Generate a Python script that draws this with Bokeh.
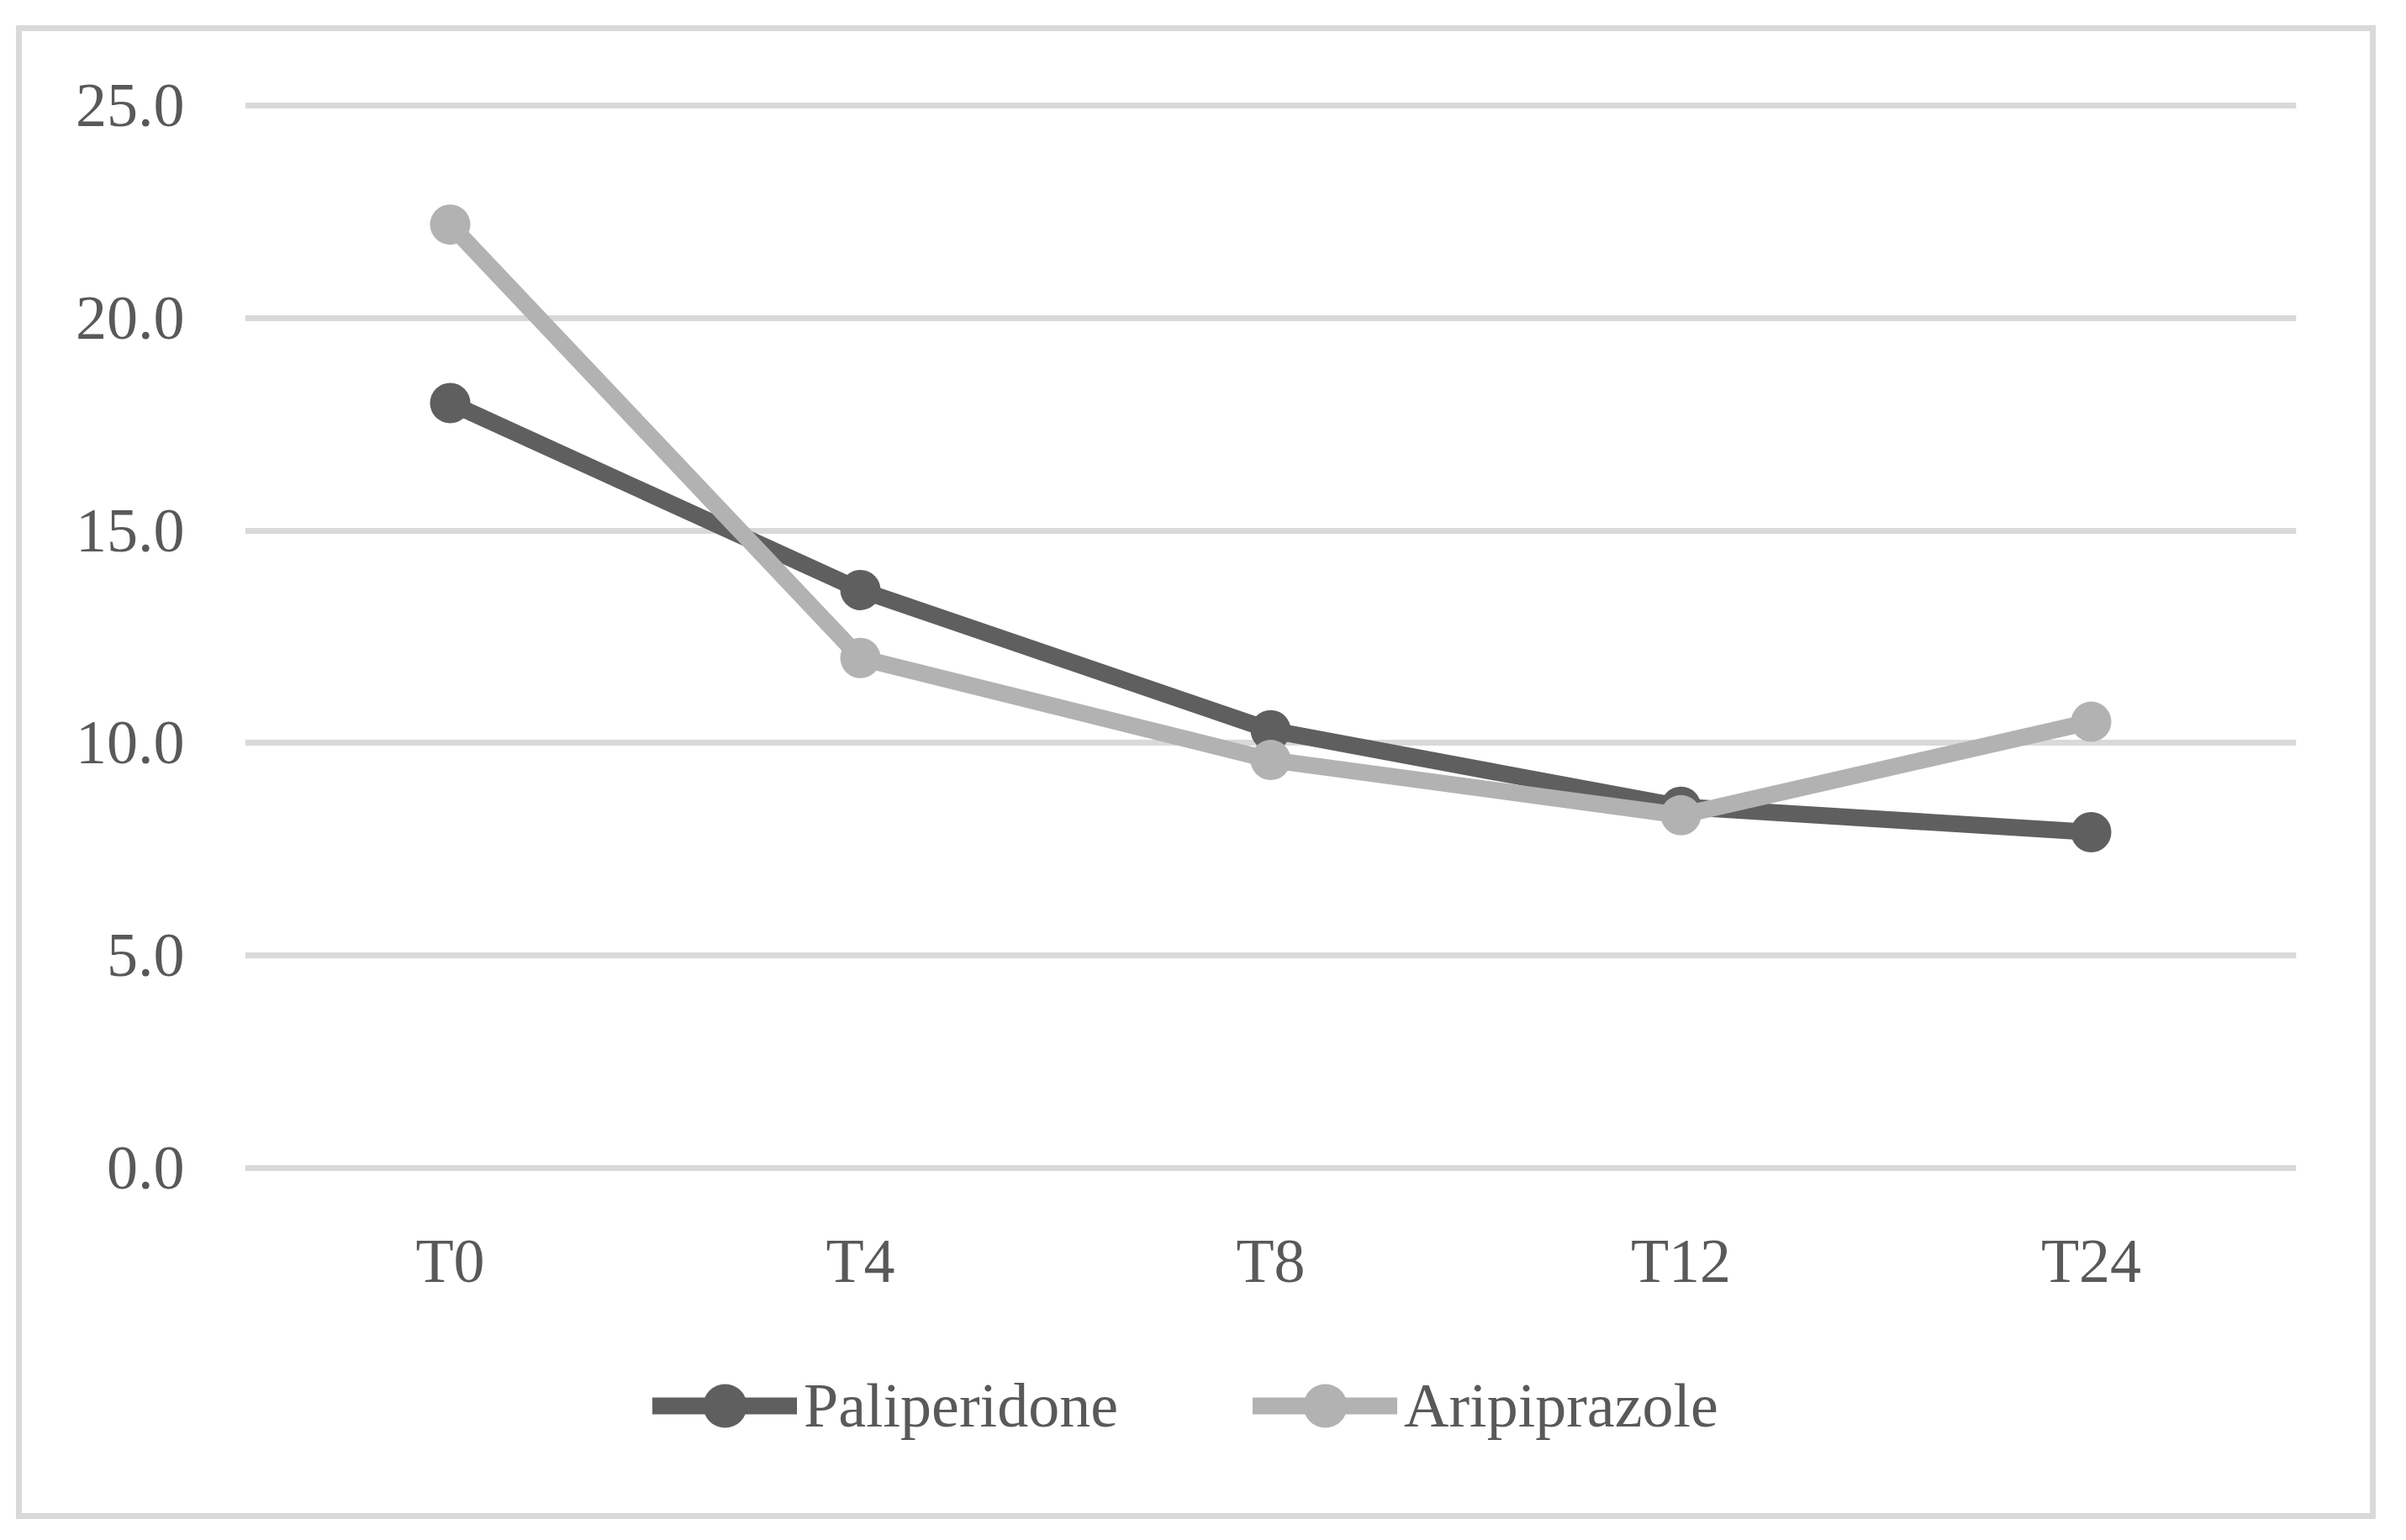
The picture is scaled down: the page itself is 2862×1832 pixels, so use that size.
from bokeh.plotting import figure
from bokeh.layouts import column
from bokeh.models import FactorRange, Range1d, FixedTicker, NumeralTickFormatter, Legend, LegendItem
from bokeh.embed import file_html
from bokeh.resources import INLINE

# ---- data ----
categories = ["T0", "T4", "T8", "T12", "T24"]
paliperidone = [18.0, 13.6, 10.3, 8.5, 7.9]
aripiprazole = [22.2, 12.0, 9.6, 8.3, 10.5]
y_ticks = [0, 5, 10, 15, 20, 25]
series_names = ["Paliperidone", "Aripiprazole"]

# ---- style ----
FONT = "Liberation Serif"
FS = "74px"
TXT = "#595959"
DARK = "#5f5f5f"
LIGHT = "#b2b2b2"
GRID = "#d9d9d9"

W = 2793

p = figure(
    width=W, height=1523,
    x_range=FactorRange(*categories, range_padding=0),
    y_range=Range1d(-0.2, 25.2),
    output_backend="svg", toolbar_location=None,
    min_border_left=265, min_border_right=88,
    min_border_top=78, min_border_bottom=161,
)
p.outline_line_color = None
p.background_fill_color = "white"
p.border_fill_color = "white"

p.yaxis.ticker = FixedTicker(ticks=y_ticks)
p.yaxis.formatter = NumeralTickFormatter(format="0.0")
for ax in (p.xaxis[0], p.yaxis[0]):
    ax.axis_line_color = None
    ax.major_tick_line_color = None
    ax.minor_tick_line_color = None
    ax.major_tick_in = 0
    ax.major_tick_out = 0
    ax.minor_tick_out = 0
    ax.major_label_text_font = FONT
    ax.major_label_text_font_size = FS
    ax.major_label_text_color = TXT
p.yaxis.major_label_standoff = 72
p.xaxis.major_label_standoff = 59

p.xgrid.grid_line_color = None
p.ygrid.ticker = FixedTicker(ticks=y_ticks)
p.ygrid.grid_line_color = GRID
p.ygrid.grid_line_width = 7

line_kw = dict(line_width=20, line_cap="round", line_join="round")
p.line(categories, paliperidone, line_color=DARK, **line_kw)
p.scatter(categories, paliperidone, size=48, fill_color=DARK, line_color=None)
p.line(categories, aripiprazole, line_color=LIGHT, **line_kw)
p.scatter(categories, aripiprazole, size=48, fill_color=LIGHT, line_color=None)

# ---- legend strip (same series, drawn out of view; only the legend shows) ----
lg = figure(
    width=W, height=240,
    x_range=FactorRange(*categories, range_padding=0),
    y_range=Range1d(100, 101),
    output_backend="svg", toolbar_location=None,
    x_axis_location=None, y_axis_location=None,
    min_border_left=0, min_border_right=0, min_border_top=0, min_border_bottom=0,
)
lg.outline_line_color = None
lg.xgrid.grid_line_color = None
lg.ygrid.grid_line_color = None
ll1 = lg.line(categories, paliperidone, line_color=DARK, **line_kw)
ls1 = lg.scatter(categories, paliperidone, size=48, fill_color=DARK, line_color=None)
ll2 = lg.line(categories, aripiprazole, line_color=LIGHT, **line_kw)
ls2 = lg.scatter(categories, aripiprazole, size=48, fill_color=LIGHT, line_color=None)

legend = Legend(
    items=[LegendItem(label=series_names[0], renderers=[ll1, ls1]),
           LegendItem(label=series_names[1], renderers=[ll2, ls2])],
    orientation="horizontal",
    location=(485, 63),
    glyph_width=172, glyph_height=130,
    label_standoff=8, label_width=420, spacing=114,
    padding=0, margin=0,
    border_line_color=None, background_fill_alpha=0,
    label_text_font=FONT, label_text_font_size=FS, label_text_color=TXT,
)
lg.add_layout(legend, "center")

page = column(p, lg, width=W + 14, height=1777, spacing=0,
              styles={"margin-left": "19px", "margin-top": "30px",
                      "border": "7px solid #d9d9d9", "background": "white"})

open("out.html", "w").write(file_html(page, INLINE))
